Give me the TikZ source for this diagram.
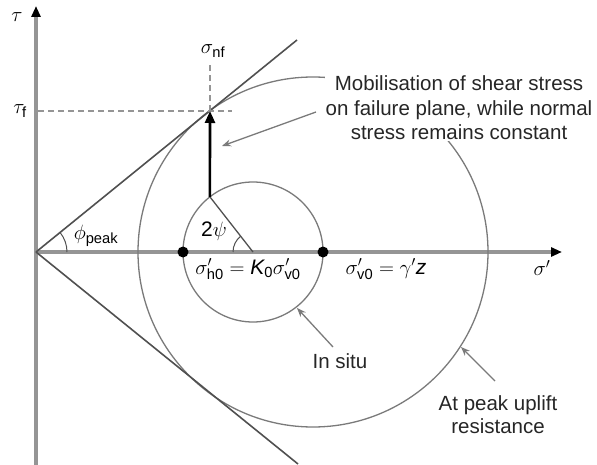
\documentclass[tikz,border=0pt]{standalone}
\usepackage{fontspec}
\setmainfont{Liberation Sans}
\usetikzlibrary{arrows.meta,calc}
\definecolor{axisgray}{HTML}{959595}
\definecolor{linegray}{HTML}{505050}
\definecolor{circgray}{HTML}{7A7A7A}
\tikzset{
  axisline/.style={draw=axisgray,line width=3.2pt,-{Triangle[length=11pt,width=9pt,fill=black,color=black]}},
  envline/.style={draw=linegray,line width=1.6pt},
  circline/.style={draw=circgray,line width=1.3pt},
  dashline/.style={draw=axisgray,line width=1.4pt,dash pattern=on 6pt off 4pt},
  annarrow/.style={draw=circgray,line width=1.3pt,-{Stealth[length=9pt,width=7pt,open]}},
  lbl/.style={inner sep=1pt,font=\fontsize{21}{24}\selectfont},
  txt/.style={inner sep=1pt,align=center,font=\fontsize{20.5}{23}\selectfont,text=black!85},
  dotmark/.style={fill=black,draw=none}
}
\begin{document}
\begin{tikzpicture}[x=1pt,y=-1pt]
\useasboundingbox (0,0) rectangle (597,465);
% key coordinates
\coordinate (O) at (36,252);
\coordinate (Ytop) at (36,6);
\coordinate (Ybot) at (36,465);
\coordinate (Xend) at (562,252);
\coordinate (Cs) at (253,252);
\coordinate (Cl) at (313,252);
\coordinate (Up) at (297,40);
\coordinate (Lo) at (298,464);
\coordinate (T) at (210,111);
\coordinate (P) at ($(Cs)+(232:70)$);
\coordinate (Dl) at (183,252);
\coordinate (Dr) at (323,252);
\coordinate (TauEnd) at (38,111);
\coordinate (TauEnd2) at (232,111);
\coordinate (NfTop) at (210,64);
% axes
\draw[draw=axisgray,line width=3.2pt] (Ybot) -- (O);
\draw[axisline] (O) -- (Ytop);
\draw[axisline] (O) -- (Xend);
% circles
\draw[circline] (Cl) circle[radius=175];
\draw[circline] (Cs) circle[radius=70];
% envelopes
\draw[envline] (O) -- (Up);
\draw[envline] (O) -- (Lo);
% dashed
\draw[dashline] (TauEnd) -- (TauEnd2);
\draw[dashline] (T) -- (NfTop);
% angles
\draw[draw=linegray,line width=1pt] (O) ++(31,0) arc[start angle=0,end angle=-39.2,radius=31];
\draw[draw=linegray,line width=1pt] (Cs) ++(-20,0) arc[start angle=180,end angle=232,radius=20];
\draw[draw=linegray,line width=1.3pt] (Cs) -- (P);
% stress path arrow
\draw[draw=black,line width=2.6pt,-{Triangle[length=12pt,width=10pt]}] (P) -- (T);
% dots
\fill[dotmark] (Dl) circle[radius=5.5];
\fill[dotmark] (Dr) circle[radius=5.5];
% labels
\node[lbl] (tau) at (17,17) {$\tau$};
\node[lbl] (tauf) at (20,111) {$\tau_{\mathrm{f}}$};
\node[lbl] (snf) at (213,51) {$\sigma_{\mathrm{nf}}$};
\node[lbl] (phi) at (96,236) {$\phi_{\mathrm{peak}}$};
\node[lbl] (psi) at (214,231) {$\mathrm{2}\psi$};
\node[lbl] (sh) at (248,269) {$\sigma'_{\mathrm{h0}}\mathrel{\mathrm{=}}\mathit{K}_{\mathrm{0}}\sigma'_{\mathrm{v0}}$};
\node[lbl] (sv) at (386,269) {$\sigma'_{\mathrm{v0}}\mathrel{\mathrm{=}}\gamma' \mathit{z}$};
\node[lbl] (sx) at (542,268) {$\sigma'$};
% annotations
\node[txt,fill=white,font=\fontsize{20.5}{24.5}\selectfont] (mob) at (459,108) {Mobilisation of shear stress\\on failure plane, while normal\\stress remains constant};
\node[txt] (insitu) at (340,361) {In situ};
\node[txt] (peak) at (498,415) {At peak uplift\\resistance};
\coordinate (MobA) at (316,112);
\coordinate (MobB) at (222,146);
\coordinate (InA) at (333,347);
\coordinate (InB) at (297,308);
\coordinate (PkA) at (495,381);
\coordinate (PkB) at (461,347);
\draw[annarrow] (MobA) -- (MobB);
\draw[annarrow] (InA) -- (InB);
\draw[annarrow] (PkA) -- (PkB);
\end{tikzpicture}
\end{document}
